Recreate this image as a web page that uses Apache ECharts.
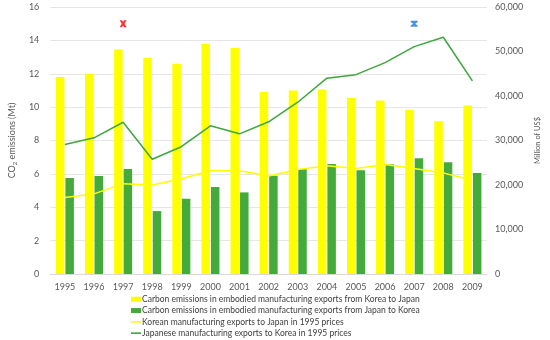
<!DOCTYPE html>
<html><head><meta charset="utf-8">
<script src="https://cdn.jsdelivr.net/npm/echarts@6/dist/echarts.min.js"></script>
<style>html,body{margin:0;padding:0;background:#fff}#c{width:550px;height:340px}</style>
</head><body><div id="c"></div>
<script>
var years = ['1995','1996','1997','1998','1999','2000','2001','2002','2003','2004','2005','2006','2007','2008','2009'];
var koreaToJapanEmb = [11.8,12.0,13.45,12.95,12.6,13.8,13.55,10.9,11.0,11.05,10.55,10.4,9.85,9.15,10.1];
var japanToKoreaEmb = [5.75,5.87,6.29,3.77,4.51,5.21,4.89,5.89,6.27,6.59,6.21,6.57,6.93,6.69,6.05];
var koreaExports = [17200,18000,20300,20000,21400,23200,23200,22000,23500,24300,23700,24600,23700,22700,21100];
var japanExports = [29100,30600,34100,25800,28600,33300,31500,34200,38600,44000,44800,47500,51100,53200,43400];
var redMarker = [['1997', 15]];
var blueMarker = [['2007', 15]];
var leftTicks = [0,2,4,6,8,10,12,14,16];
var rightTicks = [0,10000,20000,30000,40000,50000,60000];

var names = ['Carbon emissions in embodied manufacturing exports from Korea to Japan',
  'Carbon emissions in embodied manufacturing exports from Japan to Korea',
  'Korean manufacturing exports to Japan in 1995 prices',
  'Japanese manufacturing exports to Korea in 1995 prices'];
var FONT = 'Lato';
var lineIcon = 'path://M0,0L10,0L10,1.6L0,1.6Z';
var chart = echarts.init(document.getElementById('c'));
chart.setOption({
  animation: false,
  textStyle: {fontFamily: FONT},
  grid: {left: 35, right: 45, top: 7, bottom: 66},
  legend: {
    orient: 'vertical', left: 131, top: 294, height: 60, padding: 0, itemWidth: 10, itemHeight: 5, itemGap: 0.8,
    textStyle: {fontFamily: FONT, fontSize: 8.5, lineHeight: 10.5, color: '#404040', padding: [0,0,0,-4]},
    data: [
      {name: names[0], icon: 'rect'},
      {name: names[1], icon: 'rect'},
      {name: names[2], icon: lineIcon},
      {name: names[3], icon: lineIcon}
    ]
  },
  xAxis: {
    type: 'category', data: years,
    axisLine: {lineStyle: {color: '#d9d9d9'}}, axisTick: {show: false},
    axisLabel: {color: '#595959', fontSize: 9, margin: 9, fontFamily: FONT}
  },
  yAxis: [{
    type: 'value', min: 0, max: 16, interval: 2,
    name: 'CO{s|2} emissions (Mt)', nameLocation: 'middle', nameGap: 26, nameRotate: 90,
    nameTextStyle: {color: '#595959', fontSize: 9, fontFamily: FONT, rich: {s: {fontSize: 6, verticalAlign: 'bottom', padding: [5,0,0,0], color: '#595959'}}},
    axisLabel: {color: '#595959', fontSize: 9, margin: 11, fontFamily: FONT},
    splitLine: {lineStyle: {color: '#e6e6e6'}}
  }, {
    type: 'value', min: 0, max: 60000, interval: 10000,
    name: 'Million of US$', nameLocation: 'middle', nameGap: 33, nameRotate: 90,
    nameTextStyle: {color: '#595959', fontSize: 7.5, fontFamily: FONT},
    axisLabel: {color: '#595959', fontSize: 9, margin: 8, fontFamily: FONT,
      formatter: function(v){ return v.toLocaleString('en-US'); }},
    splitLine: {show: false}
  }],
  series: [
    {name: names[0], type: 'bar', data: koreaToJapanEmb, barWidth: 8.5, barGap: '12%', itemStyle: {color: '#FFFF00'}},
    {name: names[1], type: 'bar', data: japanToKoreaEmb, barWidth: 8.5, barGap: '12%', itemStyle: {color: '#44AA3C'}},
    {name: names[2], type: 'line', yAxisIndex: 1, data: koreaExports, symbol: 'none', lineStyle: {color: '#FFFF00', width: 1.5}, itemStyle: {color: '#FFFF00'}},
    {name: names[3], type: 'line', yAxisIndex: 1, data: japanExports, symbol: 'none', lineStyle: {color: '#3DA63D', width: 1.5}, itemStyle: {color: '#3DA63D'}},
    {name: 'red', type: 'scatter', data: redMarker, symbol: 'path://M0,0L3.5,0L5,2.5L6.5,0L10,0L7,5L10,10L6.5,10L5,7.5L3.5,10L0,10L3,5Z', symbolSize: [7,7], itemStyle: {color: '#FF0000'}},
    {name: 'blue', type: 'scatter', data: blueMarker, symbol: 'path://M0,0L10,0L10,2L6.5,5L10,8L10,10L0,10L0,8L3.5,5L0,2Z', symbolSize: [7,6], itemStyle: {color: '#1F77D4'}}
  ]
});
</script></body></html>
